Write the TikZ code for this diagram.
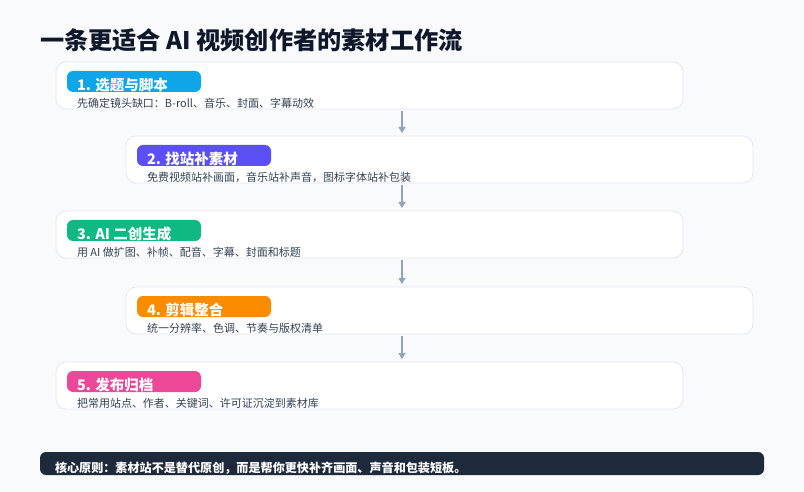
\documentclass[tikz,border=0pt]{standalone}
\usepackage{fontspec}
\setmainfont{Noto Sans CJK SC}
\usepackage{tikz}
\usetikzlibrary{arrows.meta, positioning}

\definecolor{pagebg}{HTML}{F8FAFC}
\definecolor{cardline}{HTML}{E2E8F0}
\definecolor{ink}{HTML}{0F172A}
\definecolor{inksoft}{HTML}{334155}
\definecolor{arrowgray}{HTML}{94A3B8}
\definecolor{navy}{HTML}{1E293B}
\definecolor{stepblue}{HTML}{0EA5E9}
\definecolor{steppurple}{HTML}{5B4FF5}
\definecolor{stepgreen}{HTML}{10B981}
\definecolor{steporange}{HTML}{FB8C00}
\definecolor{steppink}{HTML}{EC4899}

\begin{document}
\begin{tikzpicture}[x=1pt, y=-1pt]
        \tikzstyle{every node} = [inner sep=0pt, outer sep=0pt]
        \tikzstyle{card}  = [draw=cardline, line width=0.8pt, fill=white, rounded corners=10pt, anchor=north west,
                minimum width=627pt, minimum height=47pt]
        \tikzstyle{badge} = [rounded corners=6pt, anchor=north west, minimum width=134pt, minimum height=21pt]
        \tikzstyle{head}  = [anchor=base west, font=\fontsize{14.5}{16}\selectfont\bfseries, text=white]
        \tikzstyle{desc}  = [anchor=base west, font=\fontsize{11}{13}\selectfont, text=inksoft]
        \tikzstyle{flow}  = [draw=arrowgray, line width=1.3pt, -{Triangle[length=6pt, width=7pt]},
                shorten <=2pt, shorten >=3pt]

        \def\cola{56}
        \def\colb{126}

        \useasboundingbox[fill=pagebg] (0,0) rectangle (804,492);

        \node[anchor=base west, font=\fontsize{24.2}{27}\selectfont\bfseries, text=ink] (title) at (40,50)
            {一条更适合 AI 视频创作者的素材工作流};

        \foreach[count=\i] \col/\top/\clr/\txt/\sub in {
                \cola/62/stepblue/{1. 选题与脚本}/{先确定镜头缺口：B-roll、音乐、封面、字幕动效},
                \colb/136/steppurple/{2. 找站补素材}/{免费视频站补画面，音乐站补声音，图标字体站补包装},
                \cola/211/stepgreen/{3. AI 二创生成}/{用 AI 做扩图、补帧、配音、字幕、封面和标题},
                \colb/287/steporange/{4. 剪辑整合}/{统一分辨率、色调、节奏与版权清单},
                \cola/362/steppink/{5. 发布归档}/{把常用站点、作者、关键词、许可证沉淀到素材库}} {
            \node[card] (card\i) at (\col,\top) {};
            \node[badge, fill=\clr] (badge\i) at (\col+11,\top+9) {};
            \node[head] (head\i) at (\col+21,\top+28.5) {\txt};
            \node[desc] (desc\i) at (\col+21,\top+45.5) {\sub};
        }

        % arrows run down the middle of the page
        \coordinate (mid) at (402,0);
        \foreach \a/\b in {1/2, 2/3, 3/4, 4/5}
            \draw[flow] (card\a.south -| mid) -- (card\b.north -| mid);

        \node[fill=navy, rounded corners=6pt, anchor=north west, minimum width=724pt, minimum height=23pt]
            (footer) at (40,452) {};
        \node[anchor=base west, font=\fontsize{12.1}{14}\selectfont\bfseries, text=white] (rule) at (55,472.5)
            {核心原则：素材站不是替代原创，而是帮你更快补齐画面、声音和包装短板。};
\end{tikzpicture}
\end{document}
